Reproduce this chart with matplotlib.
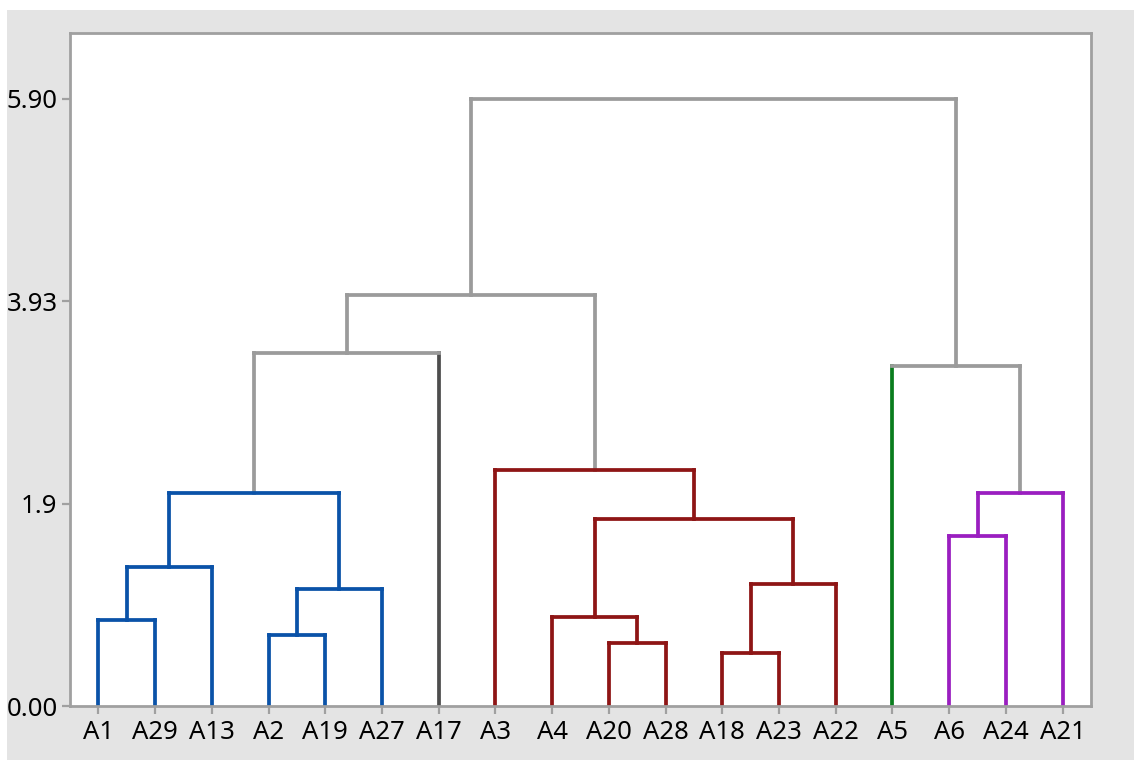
import matplotlib
matplotlib.use("Agg")
import matplotlib.pyplot as plt
from matplotlib.patches import Rectangle

# Leaves in display order and their cluster colours
leaves = ["A1", "A29", "A13", "A2", "A19", "A27", "A17", "A3", "A4",
          "A20", "A28", "A18", "A23", "A22", "A5", "A6", "A24", "A21"]
leaf_colors = ["#0a52a8"] * 6 + ["#4d4d4d"] + ["#8e1515"] * 7 + ["#0a7d1e"] + ["#9a1ec0"] * 3

# Merges: (left node, right node, height, colour); leaf nodes 0..17, merges numbered from 18
merge_left = [0, 18, 3, 20, 19, 22, 9, 8, 11, 26, 25, 7, 23, 15, 31, 14, 30]
merge_right = [1, 2, 4, 5, 21, 6, 10, 24, 12, 13, 27, 28, 29, 16, 17, 32, 33]
merge_height = [0.836, 1.354, 0.687, 1.137, 2.073, 3.433, 0.612, 0.865,
                0.518, 1.183, 1.820, 2.290, 3.990, 1.655, 2.073, 3.304, 5.90]
merge_colors = ["#0a52a8"] * 5 + ["#9b9b9b"] + ["#8e1515"] * 6 + ["#9b9b9b"] + \
               ["#9a1ec0"] * 2 + ["#9b9b9b"] * 2

y_ticks = [0.0, 5.90 / 3, 2 * 5.90 / 3, 5.90]
y_tick_labels = ["0.00", "1.9", "3.93", "5.90"]

plt.rcParams["font.family"] = ["Noto Sans", "DejaVu Sans"]

fig = plt.figure(figsize=(11.34, 7.62), dpi=100)
fig.patch.set_facecolor("white")
fig.patches.append(Rectangle((7 / 1134, 2 / 762), 1127 / 1134, 750 / 762,
                             transform=fig.transFigure, facecolor="#e4e4e4",
                             edgecolor="none", zorder=-10))

ax = fig.add_axes([70 / 1134, 56 / 762, 1021 / 1134, 673 / 762])
ax.set_facecolor("white")

# node coordinates: x position and height
node_x = {i: float(i) for i in range(len(leaves))}
node_y = {i: 0.0 for i in range(len(leaves))}

lw = 2.7
for k, (a, b, h, c) in enumerate(zip(merge_left, merge_right, merge_height, merge_colors)):
    node = len(leaves) + k
    for child in (a, b):
        leg_color = leaf_colors[child] if child < len(leaves) else c
        ax.plot([node_x[child], node_x[child]], [node_y[child], h], color=leg_color,
                lw=lw, solid_capstyle="projecting", zorder=2)
    ax.plot([node_x[a], node_x[b]], [h, h], color=c, lw=lw,
            solid_capstyle="projecting", zorder=3)
    node_x[node] = (node_x[a] + node_x[b]) / 2
    node_y[node] = h

ax.set_xlim(-0.5, len(leaves) - 0.5)
ax.set_ylim(0, 6.54)
ax.set_xticks(range(len(leaves)))
ax.set_xticklabels(leaves)
ax.set_yticks(y_ticks)
ax.set_yticklabels(y_tick_labels)

for side in ax.spines.values():
    side.set_color("#a0a0a0")
    side.set_linewidth(2.0)

ax.tick_params(axis="both", direction="out", length=6, width=1.6, color="#a0a0a0",
               labelsize=18.5, labelcolor="black")
ax.tick_params(axis="x", pad=4)
ax.tick_params(axis="y", pad=3)

fig.savefig("out.png", dpi=100, facecolor=fig.get_facecolor())
